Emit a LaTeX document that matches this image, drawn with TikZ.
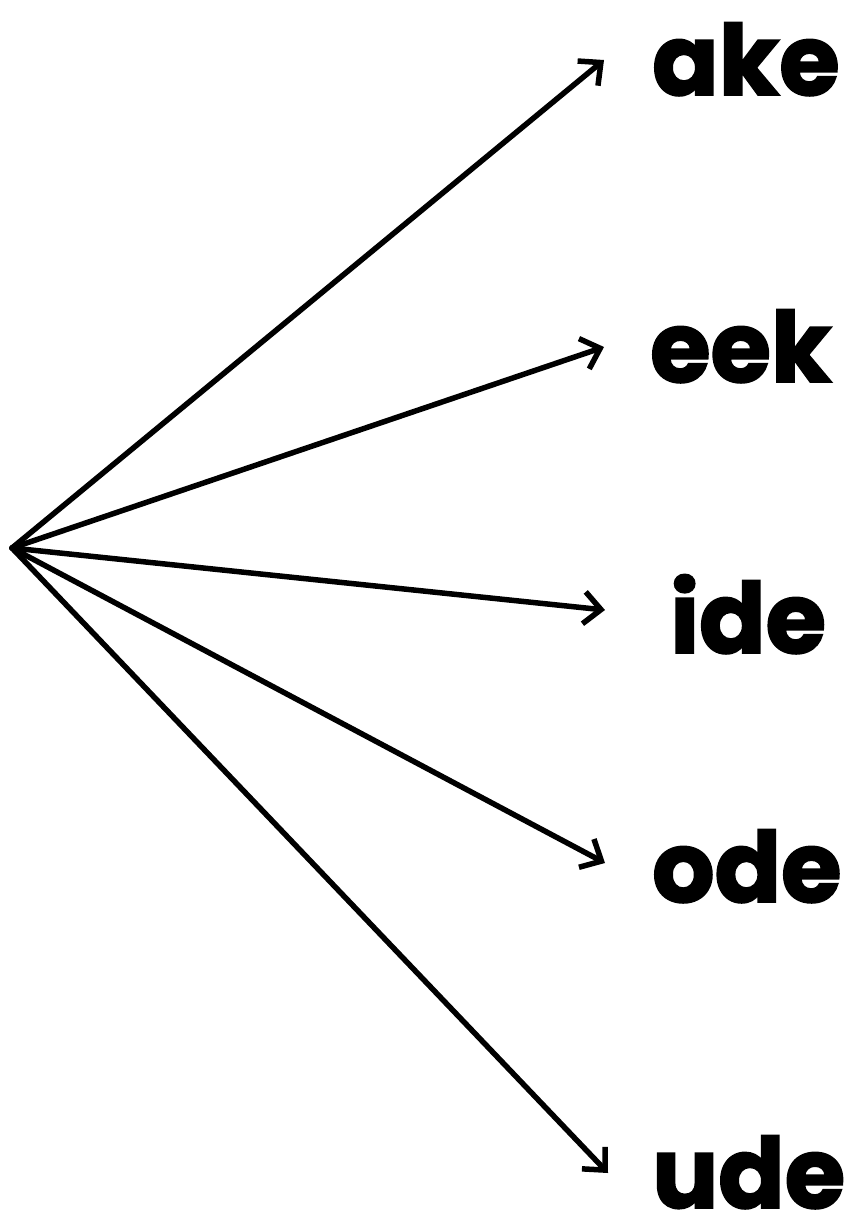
\documentclass[tikz,border=0pt]{standalone}
\usepackage{fontspec}
\setmainfont{Poppins}[BoldFeatures={FakeBold=2}]
\usetikzlibrary{arrows.meta}
\begin{document}
\begin{tikzpicture}[x=1pt,y=-1pt,
  conn/.style={line width=5.5pt,line cap=round,-{Straight Barb[length=17pt,width=32pt,line width=5.5pt]}},
  word/.style={anchor=base west,inner sep=0pt,font=\fontsize{98}{98}\selectfont\bfseries}]
\useasboundingbox (0,0) rectangle (864,1232);
\coordinate (src) at (12,548);
\coordinate (t1) at (604,60);
\coordinate (t2) at (604,347);
\coordinate (t3) at (605,610);
\coordinate (t4) at (605,863);
\coordinate (t5) at (608,1173);
\node[word] (ake) at (652,95) {ake};
\node[word] (eek) at (650,382) {eek};
\node[word] (ide) at (670,653) {ide};
\node[word] (ode) at (652,902) {ode};
\node[word] (ude) at (652,1208) {ude};
\draw[conn] (src) -- (t1);
\draw[conn] (src) -- (t2);
\draw[conn] (src) -- (t3);
\draw[conn] (src) -- (t4);
\draw[conn] (src) -- (t5);
\end{tikzpicture}
\end{document}
